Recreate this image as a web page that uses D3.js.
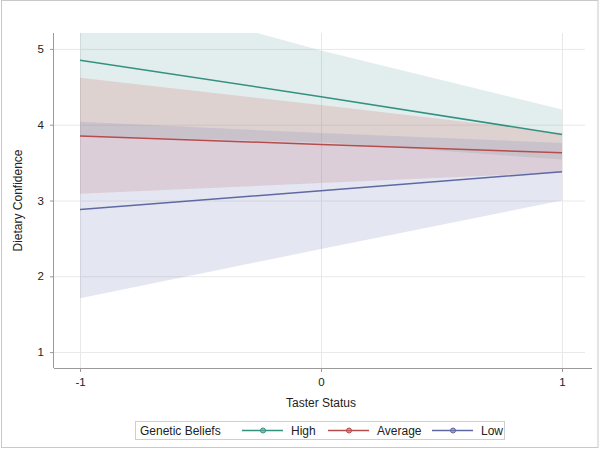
<!DOCTYPE html>
<html>
<head>
<meta charset="utf-8">
<script src="https://cdn.jsdelivr.net/npm/d3@7"></script>
<style>
body { margin: 0; background: #fff; }
svg { display: block; font-family: "Liberation Sans", Arial, sans-serif; }
</style>
</head>
<body>
<div id="chart"></div>
<script>
// taster status points
var tasterStatus = [-1, 0, 1];
var groups = ["High", "Average", "Low"];
// predicted means and confidence limits
var highMean = [4.85, 4.37, 3.87];
var highLower = [3.85, 3.77, 3.54];
var highUpper = [5.85, 4.98, 4.20];
var avgMean = [3.85, 3.74, 3.63];
var avgLower = [3.09, 3.23, 3.37];
var avgUpper = [4.62, 4.26, 3.89];
var lowMean = [2.88, 3.13, 3.38];
var lowLower = [1.71, 2.36, 3.00];
var lowUpper = [4.04, 3.89, 3.76];
var xTicks = [-1, 0, 1];
var yTicks = [1, 2, 3, 4, 5];

var lineColors = ["#33917f", "#b54d4c", "#6068a3"];
var fillColors = ["#66a5a0", "#d05b5b", "#6f7eb3"];

var width = 600, height = 450;
var plotLeft = 54, plotRight = 589, plotTop = 33, plotBottom = 368;

var svg = d3.select("#chart").append("svg")
    .attr("width", width)
    .attr("height", height);

// outer frame
svg.append("rect")
    .attr("x", 1.5).attr("y", 0.5)
    .attr("width", width - 3.5).attr("height", height - 3)
    .attr("fill", "none")
    .attr("stroke", "#c8c8c8");

var x = d3.scaleLinear().domain([-1.108, 1.112]).range([plotLeft, plotRight]);
var y = d3.scaleLinear().domain([0.79, 5.21]).range([plotBottom, plotTop]);

svg.append("defs").append("clipPath").attr("id", "plotclip")
    .append("rect")
    .attr("x", plotLeft).attr("y", plotTop)
    .attr("width", plotRight - plotLeft).attr("height", plotBottom - plotTop);

// grid
svg.append("g").selectAll("line")
    .data(yTicks).enter().append("line")
    .attr("x1", plotLeft).attr("x2", plotRight - 4)
    .attr("y1", function(d) { return y(d) + 0.5; })
    .attr("y2", function(d) { return y(d) + 0.5; })
    .attr("stroke", "#e8e8e8");
svg.append("g").selectAll("line")
    .data(xTicks).enter().append("line")
    .attr("y1", plotTop).attr("y2", plotBottom)
    .attr("x1", function(d) { return x(d) + 0.5; })
    .attr("x2", function(d) { return x(d) + 0.5; })
    .attr("stroke", "#e8e8e8");

var series = [
    {name: groups[0], mean: highMean, lower: highLower, upper: highUpper},
    {name: groups[1], mean: avgMean, lower: avgLower, upper: avgUpper},
    {name: groups[2], mean: lowMean, lower: lowLower, upper: lowUpper}
];

var plot = svg.append("g").attr("clip-path", "url(#plotclip)");

var area = d3.area()
    .x(function(d) { return x(d.t); })
    .y0(function(d) { return y(d.lo); })
    .y1(function(d) { return y(d.hi); });

var line = d3.line()
    .x(function(d) { return x(d.t); })
    .y(function(d) { return y(d.m); });

series.forEach(function(s, i) {
    var pts = tasterStatus.map(function(t, j) {
        return {t: t, m: s.mean[j], lo: s.lower[j], hi: s.upper[j]};
    });
    plot.append("path")
        .datum(pts)
        .attr("d", area)
        .attr("fill", fillColors[i])
        .attr("fill-opacity", 0.19);
});

series.forEach(function(s, i) {
    var pts = tasterStatus.map(function(t, j) {
        return {t: t, m: s.mean[j]};
    });
    plot.append("path")
        .datum(pts)
        .attr("d", line)
        .attr("fill", "none")
        .attr("stroke", lineColors[i])
        .attr("stroke-width", 1.5);
});

// axes
var fmt = function(d) { return String(d); };
var xAxis = svg.append("g")
    .attr("transform", "translate(0," + plotBottom + ")")
    .call(d3.axisBottom(x).tickValues(xTicks).tickSize(4).tickPadding(6).tickFormat(fmt));
var yAxis = svg.append("g")
    .attr("transform", "translate(" + plotLeft + ",0)")
    .call(d3.axisLeft(y).tickValues(yTicks).tickSize(4).tickPadding(6).tickFormat(fmt));
xAxis.select(".domain").attr("d", "M" + plotLeft + ",0.5H" + (plotRight + 3));
yAxis.select(".domain").attr("d", "M-0.5," + plotTop + "V" + plotBottom);
[xAxis, yAxis].forEach(function(a) {
    a.select(".domain").attr("stroke", "#9a9a9a");
    a.selectAll(".tick line").attr("stroke", "#9a9a9a");
    a.selectAll(".tick text").attr("fill", "#222").style("font-size", "11.5px");
});

svg.append("text")
    .attr("x", x(0)).attr("y", 407)
    .attr("text-anchor", "middle")
    .style("font-size", "12px").attr("fill", "#222")
    .text("Taster Status");
svg.append("text")
    .attr("transform", "translate(22," + ((plotTop + plotBottom) / 2) + ") rotate(-90)")
    .attr("text-anchor", "middle")
    .style("font-size", "12px").attr("fill", "#222")
    .text("Dietary Confidence");

// legend
var legend = svg.append("g");
legend.append("rect")
    .attr("x", 135.5).attr("y", 421.5)
    .attr("width", 369).attr("height", 18)
    .attr("fill", "#fff").attr("stroke", "#cfcfcf");
legend.append("text")
    .attr("x", 140).attr("y", 435)
    .style("font-size", "12px").attr("fill", "#222")
    .text("Genetic Beliefs");
var itemX = [242, 328, 432];
groups.forEach(function(g, i) {
    var lx = itemX[i];
    legend.append("line")
        .attr("x1", lx).attr("x2", lx + 41)
        .attr("y1", 430.5).attr("y2", 430.5)
        .attr("stroke", lineColors[i]).attr("stroke-width", 1.3);
    legend.append("circle")
        .attr("cx", lx + 21).attr("cy", 430.5).attr("r", 2.5)
        .attr("fill", fillColors[i]).attr("fill-opacity", 0.6)
        .attr("stroke", lineColors[i]).attr("stroke-width", 1);
    legend.append("text")
        .attr("x", lx + 49).attr("y", 435)
        .style("font-size", "12px").attr("fill", "#222")
        .text(g);
});
</script>
</body>
</html>
